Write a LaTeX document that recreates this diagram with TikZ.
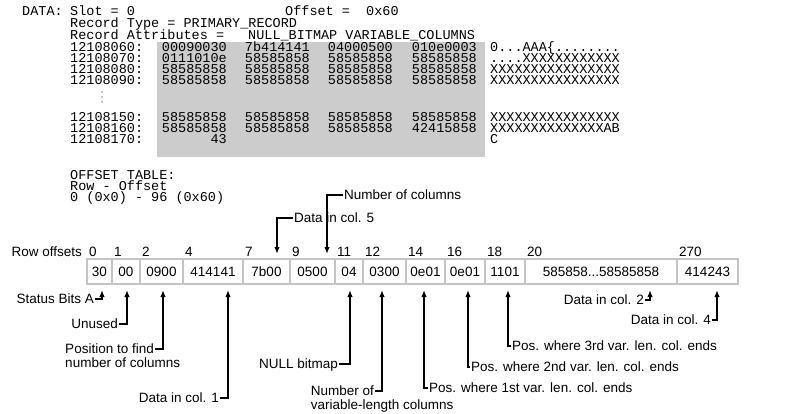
\documentclass[tikz,border=0pt]{standalone}
\usepackage{fontspec}
\setmainfont{Liberation Sans}
\newfontfamily\dumpfont{Liberation Mono}
\usetikzlibrary{arrows.meta,positioning}

\definecolor{dumpgray}{RGB}{204,204,204}
\definecolor{cellgray}{RGB}{196,196,196}

\tikzset{
  mono/.style={font=\dumpfont\fontsize{13.5}{15}\selectfont, inner sep=0pt, text height=8pt, text depth=0pt},
  cell/.style={draw=cellgray, line width=1.8pt, outer sep=0pt, minimum height=25pt, inner sep=0pt,
    text height=10pt, text depth=0pt, font=\fontsize{13.5}{15}\selectfont},
  offnum/.style={inner sep=0pt, anchor=base west, font=\fontsize{13.5}{15}\selectfont},
  note/.style={inner sep=1pt, text height=9.5pt, text depth=0pt, font=\fontsize{13.5}{15}\selectfont},
  pointer/.style={-{Latex[length=7pt,width=5.5pt]}, line width=1.5pt},
}

% one line of the page dump
\newcommand{\dumprow}[8]{%
  \node[mono, anchor=west] (#1a) at (70,#2) {#3:};
  \node[mono, anchor=east] (#1w1) at (227,#2) {#4};
  \node[mono, anchor=east] (#1w2) at (310,#2) {#5};
  \node[mono, anchor=east] (#1w3) at (393,#2) {#6};
  \node[mono, anchor=east] (#1w4) at (477,#2) {#7};
  \node[mono, anchor=west] (#1t) at (490,#2) {#8};
}

\begin{document}
\begin{tikzpicture}[x=1pt,y=-1pt]
\useasboundingbox (0,0) rectangle (800,414);

% page dump
\fill[dumpgray] (157,42) rectangle (485,157);
\node[mono, anchor=west] (data) at (22,12) {DATA:};
\node[mono, anchor=west] (slot) at (70,12) {Slot = 0};
\node[mono, anchor=west] (offset) at (285,12) {Offset =\ \ 0x60};
\node[mono, anchor=west] (rtype) at (70,24) {Record Type = PRIMARY\_RECORD};
\node[mono, anchor=west] (rattr) at (70,35.5) {Record Attributes =};
\node[mono, anchor=west] (rflags) at (248,35.5) {NULL\_BITMAP VARIABLE\_COLUMNS};

\dumprow{r60}{48}{12108060}{00090030}{7b414141}{04000500}{010e0003}{0...AAA\{........}
\dumprow{r70}{59}{12108070}{0111010e}{58585858}{58585858}{58585858}{....XXXXXXXXXXXX}
\dumprow{r80}{70}{12108080}{58585858}{58585858}{58585858}{58585858}{XXXXXXXXXXXXXXXX}
\dumprow{r90}{81}{12108090}{58585858}{58585858}{58585858}{58585858}{XXXXXXXXXXXXXXXX}
% skipped lines
\foreach \d in {92,97,102}
  \fill (102,\d) circle (0.65pt);
\dumprow{r150}{118}{12108150}{58585858}{58585858}{58585858}{58585858}{XXXXXXXXXXXXXXXX}
\dumprow{r160}{129}{12108160}{58585858}{58585858}{58585858}{42415858}{XXXXXXXXXXXXXXAB}
\node[mono, anchor=west] (r170a) at (70,140) {12108170:};
\node[mono, anchor=east] (r170w1) at (227,140) {43};
\node[mono, anchor=west] (r170t) at (490,140) {C};

% offset table
\node[mono, anchor=west] (otab) at (70,175) {OFFSET TABLE:};
\node[mono, anchor=west] (orow) at (70,186) {Row - Offset};
\node[mono, anchor=west] (oval) at (70,197) {0 (0x0) - 96 (0x60)};

% the row, byte by byte
\node[cell, minimum width=25pt, anchor=west] (c0) at (87,271.5) {30};
\node[cell, minimum width=28pt, right=0pt of c0] (c1) {00};
\node[cell, minimum width=43pt, right=0pt of c1] (c2) {0900};
\node[cell, minimum width=60pt, right=0pt of c2] (c3) {414141};
\node[cell, minimum width=47pt, right=0pt of c3] (c4) {7b00};
\node[cell, minimum width=45pt, right=0pt of c4] (c5) {0500};
\node[cell, minimum width=28pt, right=0pt of c5] (c6) {04};
\node[cell, minimum width=43pt, right=0pt of c6] (c7) {0300};
\node[cell, minimum width=39pt, right=0pt of c7] (c8) {0e01};
\node[cell, minimum width=40pt, right=0pt of c8] (c9) {0e01};
\node[cell, minimum width=40pt, right=0pt of c9] (c10) {1101};
\node[cell, minimum width=152pt, right=0pt of c10] (c11) {585858...58585858};
\node[cell, minimum width=61pt, right=0pt of c11] (c12) {414243};

\foreach \c/\n in {c0/0, c1/1, c2/2, c3/4, c4/7, c5/9, c6/11, c7/12, c8/14, c9/16, c10/18, c11/20, c12/270}
  \node[offnum] (n\n) at ([shift={(2pt,3pt)}]\c.north west) {\n};
\node[offnum, anchor=base east] (rowoff) at ([xshift=-7pt]n0.base west) {Row offsets};

% pointers above the row
\coordinate (q4) at (277,254);
\coordinate (q5) at (327,254);
\node[note, anchor=west] (lncols) at (343,195) {Number of columns};
\node[note, anchor=west] (lcol5) at (293,218) {Data in col. 5};
\draw[pointer] (lncols.west) -| (q5);
\draw[pointer] (lcol5.west) -| (q4);

% pointers below the row
\coordinate (p0) at (102,290);
\coordinate (p1) at (127,290);
\coordinate (p2) at (163,290);
\coordinate (p3) at (228,290);
\coordinate (p6) at (350,290);
\coordinate (p7) at (382,290);
\coordinate (p8) at (424,290);
\coordinate (p9) at (468,290);
\coordinate (p10) at (508,290);
\coordinate (p11) at (650,290);
\coordinate (p12) at (717,290);

\node[note, anchor=east] (lstat) at (95,299) {Status Bits A};
\node[note, anchor=east] (lunused) at (119,324) {Unused};
\node[note, anchor=east] (lpos) at (155,349) {Position to find};
\node[note, anchor=west] (lpos2) at ([yshift=-14pt]lpos.west) {number of columns};
\node[note, anchor=east] (lcol1) at (220,398) {Data in col. 1};
\node[note, anchor=east] (lnull) at (339,364) {NULL bitmap};
\node[note, anchor=east] (lnvar) at (375,391) {Number of};
\node[note, anchor=west] (lnvar2) at ([yshift=-14pt]lnvar.west) {variable-length columns};
\node[note, anchor=west] (l1st) at (428,388) {Pos. where 1st var. len. col. ends};
\node[note, anchor=west] (l2nd) at (470,367) {Pos. where 2nd var. len. col. ends};
\node[note, anchor=west] (l3rd) at (511,346) {Pos. where 3rd var. len. col. ends};
\node[note, anchor=east] (lcol2) at (645,300) {Data in col. 2};
\node[note, anchor=east] (lcol4) at (712,320) {Data in col. 4};

\draw[pointer] (lstat.east) -| (p0);
\draw[pointer] (lunused.east) -| (p1);
\draw[pointer] (lpos.east) -| (p2);
\draw[pointer] (lcol1.east) -| (p3);
\draw[pointer] (lnull.east) -| (p6);
\draw[pointer] (lnvar.east) -| (p7);
\draw[pointer] (l1st.west) -| (p8);
\draw[pointer] (l2nd.west) -| (p9);
\draw[pointer] (l3rd.west) -| (p10);
\draw[pointer] (lcol2.east) -| (p11);
\draw[pointer] (lcol4.east) -| (p12);
\end{tikzpicture}
\end{document}
